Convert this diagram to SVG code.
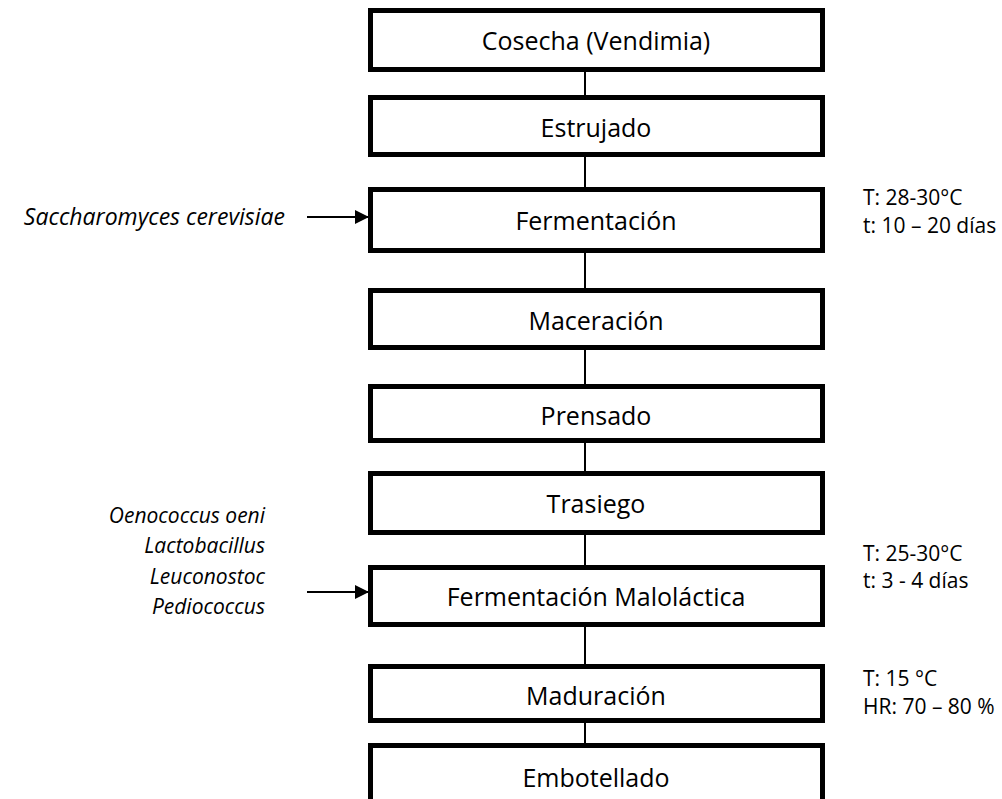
<svg xmlns="http://www.w3.org/2000/svg" width="1002" height="799" viewBox="0 0 1002 799">
<style>
.box{fill:#fff;stroke:#000;stroke-width:5}
.lbl{font-family:"Open Sans","Liberation Sans",sans-serif;font-size:25px;fill:#000;text-anchor:middle}
.note{font-family:"Open Sans","Liberation Sans",sans-serif;font-size:21px;fill:#000}
.org{font-family:"Open Sans","Liberation Sans",sans-serif;font-size:21px;font-style:italic;fill:#000;text-anchor:end}
.con{stroke:#000;stroke-width:2;fill:none}
</style>
<defs>
<marker id="ah" markerWidth="14" markerHeight="14" refX="13" refY="7" orient="auto" markerUnits="userSpaceOnUse">
<path d="M0,0 L14,7 L0,14 Z" fill="#000"/>
</marker>
</defs>
<rect width="1002" height="799" fill="#fff"/>
<g id="connectors">
<line class="con" x1="585" y1="72" x2="585" y2="95"/>
<line class="con" x1="585" y1="157" x2="585" y2="187"/>
<line class="con" x1="585" y1="253" x2="585" y2="288"/>
<line class="con" x1="585" y1="350" x2="585" y2="384"/>
<line class="con" x1="585" y1="443" x2="585" y2="471"/>
<line class="con" x1="585" y1="535" x2="585" y2="565"/>
<line class="con" x1="585" y1="627" x2="585" y2="664"/>
<line class="con" x1="585" y1="723" x2="585" y2="743"/>
<line class="con" x1="307" y1="217" x2="368" y2="217" marker-end="url(#ah)"/>
<line class="con" x1="307" y1="592" x2="368" y2="592" marker-end="url(#ah)"/>
</g>
<g id="n1"><rect class="box" x="370.5" y="10.5" width="452" height="59"/><text class="lbl" x="596" y="50">Cosecha (Vendimia)</text></g>
<g id="n2"><rect class="box" x="370.5" y="97.5" width="452" height="57"/><text class="lbl" x="596" y="137">Estrujado</text></g>
<g id="n3"><rect class="box" x="370.5" y="189.5" width="452" height="61"/><text class="lbl" x="596" y="230">Fermentación</text></g>
<g id="n4"><rect class="box" x="370.5" y="290.5" width="452" height="57"/><text class="lbl" x="596" y="330">Maceración</text></g>
<g id="n5"><rect class="box" x="370.5" y="386.5" width="452" height="54"/><text class="lbl" x="596" y="425">Prensado</text></g>
<g id="n6"><rect class="box" x="370.5" y="473.5" width="452" height="59"/><text class="lbl" x="596" y="513">Trasiego</text></g>
<g id="n7"><rect class="box" x="370.5" y="567.5" width="452" height="57"/><text class="lbl" x="596" y="606">Fermentación Maloláctica</text></g>
<g id="n8"><rect class="box" x="370.5" y="666.5" width="452" height="54"/><text class="lbl" x="596" y="705">Maduración</text></g>
<g id="n9"><rect class="box" x="370.5" y="745.5" width="452" height="80"/><text class="lbl" x="596" y="787">Embotellado</text></g>
<g id="notes">
<text class="org" x="285" y="225" style="font-size:23px">Saccharomyces cerevisiae</text>
<text class="org" x="265" y="523">Oenococcus oeni</text>
<text class="org" x="265" y="553">Lactobacillus</text>
<text class="org" x="265" y="584">Leuconostoc</text>
<text class="org" x="265" y="614">Pediococcus</text>
<text class="note" x="863" y="205">T: 28-30°C</text>
<text class="note" x="863" y="233">t: 10 – 20 días</text>
<text class="note" x="863" y="561">T: 25-30°C</text>
<text class="note" x="863" y="588">t: 3 - 4 días</text>
<text class="note" x="863" y="686">T: 15 °C</text>
<text class="note" x="863" y="714">HR: 70 – 80 %</text>
</g>
</svg>
